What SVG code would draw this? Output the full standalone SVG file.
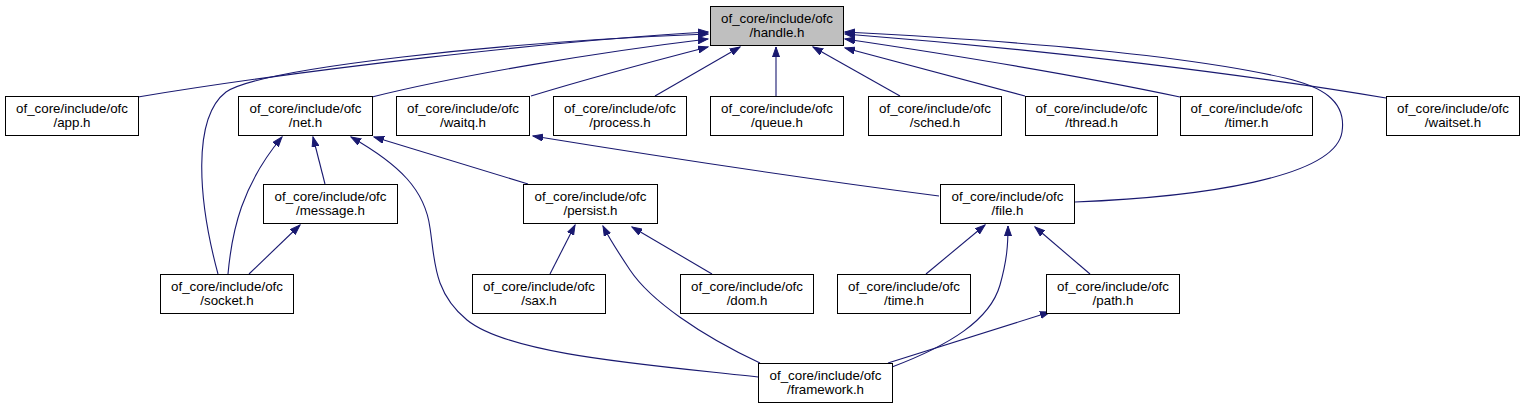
<svg xmlns="http://www.w3.org/2000/svg" width="1529" height="409" viewBox="0 0 1529 409">
<style>
.n rect{fill:#fff;stroke:#000;stroke-width:1}
.n.root rect{fill:#bfbfbf}
.n text{font-family:"Liberation Sans",Arial,sans-serif;font-size:13.33px;fill:#000;text-anchor:middle}
.e path{fill:none;stroke:#191970;stroke-width:1.1;marker-end:url(#ah)}
</style>
<defs>
<marker id="ah" markerUnits="userSpaceOnUse" markerWidth="11" markerHeight="8" refX="10" refY="4" orient="auto">
<path d="M0,0.5 L10,4 L0,7.5 z" fill="#191970" stroke="#191970" stroke-width="1"/>
</marker>
</defs>
<rect width="1529" height="409" fill="#fff"/>
<g id="edges" class="e">
<path d="M138,97 C 300,70 560,40 708,32"/>
<path d="M218,274 C 198,200 192,118 226,92 C 262,68 500,42 708,34"/>
<path d="M372,97 C 460,75 600,52 708,39"/>
<path d="M531,96 C 590,78 650,62 708,47"/>
<path d="M655,96 L740,47"/>
<path d="M776,96 L776,47"/>
<path d="M900,96 L813,47"/>
<path d="M1025,96 L845,48"/>
<path d="M1180,97 C 1100,80 1000,62 845,39"/>
<path d="M1386,98 C 1250,75 1050,50 845,34"/>
<path d="M1075,202 C 1200,197 1335,178 1342,132 C 1347,100 1320,86 1285,78 C 1180,54 1000,40 845,32"/>
<path d="M325,184 L313,137"/>
<path d="M228,274 C 232,230 242,185 282,137"/>
<path d="M528,184 L374,137"/>
<path d="M758,377 C 650,365 510,355 467,320 C 433,292 435,260 430,228 C 425,190 400,165 351,137"/>
<path d="M939,196 C 800,178 650,155 533,136"/>
<path d="M249,274 L300,225"/>
<path d="M550,274 L575,225"/>
<path d="M712,274 L632,227"/>
<path d="M760,363 C 700,335 650,300 630,270 C 620,255 610,240 603,226"/>
<path d="M926,274 L985,225"/>
<path d="M892,367 C 950,345 990,320 1000,285 C 1007,260 1008,245 1008,226"/>
<path d="M1090,274 L1035,227"/>
<path d="M888,363 L1050,312"/>
</g>
<g id="handle" class="n root"><rect x="710.5" y="6.5" width="133" height="39"/><text x="777" y="23">of_core/include/ofc</text><text x="777" y="37">/handle.h</text></g>
<g id="app" class="n"><rect x="5.5" y="96.5" width="133" height="39"/><text x="72" y="113">of_core/include/ofc</text><text x="72" y="127">/app.h</text></g>
<g id="net" class="n"><rect x="238.5" y="96.5" width="134" height="39"/><text x="305.5" y="113">of_core/include/ofc</text><text x="305.5" y="127">/net.h</text></g>
<g id="waitq" class="n"><rect x="396.5" y="96.5" width="133" height="39"/><text x="463" y="113">of_core/include/ofc</text><text x="463" y="127">/waitq.h</text></g>
<g id="process" class="n"><rect x="553.5" y="96.5" width="133" height="39"/><text x="620" y="113">of_core/include/ofc</text><text x="620" y="127">/process.h</text></g>
<g id="queue" class="n"><rect x="710.5" y="96.5" width="133" height="39"/><text x="777" y="113">of_core/include/ofc</text><text x="777" y="127">/queue.h</text></g>
<g id="sched" class="n"><rect x="868.5" y="96.5" width="133" height="39"/><text x="935" y="113">of_core/include/ofc</text><text x="935" y="127">/sched.h</text></g>
<g id="thread" class="n"><rect x="1025.5" y="96.5" width="132" height="39"/><text x="1091.5" y="113">of_core/include/ofc</text><text x="1091.5" y="127">/thread.h</text></g>
<g id="timer" class="n"><rect x="1180.5" y="96.5" width="132" height="39"/><text x="1246.5" y="113">of_core/include/ofc</text><text x="1246.5" y="127">/timer.h</text></g>
<g id="waitset" class="n"><rect x="1386.5" y="96.5" width="133" height="39"/><text x="1453" y="113">of_core/include/ofc</text><text x="1453" y="127">/waitset.h</text></g>
<g id="message" class="n"><rect x="263.5" y="184.5" width="134" height="39"/><text x="330.5" y="201">of_core/include/ofc</text><text x="330.5" y="215">/message.h</text></g>
<g id="persist" class="n"><rect x="523.5" y="184.5" width="134" height="39"/><text x="590.5" y="201">of_core/include/ofc</text><text x="590.5" y="215">/persist.h</text></g>
<g id="file" class="n"><rect x="940.5" y="184.5" width="134" height="39"/><text x="1007.5" y="201">of_core/include/ofc</text><text x="1007.5" y="215">/file.h</text></g>
<g id="socket" class="n"><rect x="160.5" y="274.5" width="133" height="39"/><text x="227" y="291">of_core/include/ofc</text><text x="227" y="305">/socket.h</text></g>
<g id="sax" class="n"><rect x="472.5" y="274.5" width="133" height="39"/><text x="539" y="291">of_core/include/ofc</text><text x="539" y="305">/sax.h</text></g>
<g id="dom" class="n"><rect x="680.5" y="274.5" width="133" height="39"/><text x="747" y="291">of_core/include/ofc</text><text x="747" y="305">/dom.h</text></g>
<g id="time" class="n"><rect x="837.5" y="274.5" width="133" height="39"/><text x="904" y="291">of_core/include/ofc</text><text x="904" y="305">/time.h</text></g>
<g id="path" class="n"><rect x="1046.5" y="274.5" width="133" height="39"/><text x="1113" y="291">of_core/include/ofc</text><text x="1113" y="305">/path.h</text></g>
<g id="framework" class="n"><rect x="758.5" y="363.5" width="134" height="39"/><text x="825.5" y="380">of_core/include/ofc</text><text x="825.5" y="394">/framework.h</text></g>
</svg>
